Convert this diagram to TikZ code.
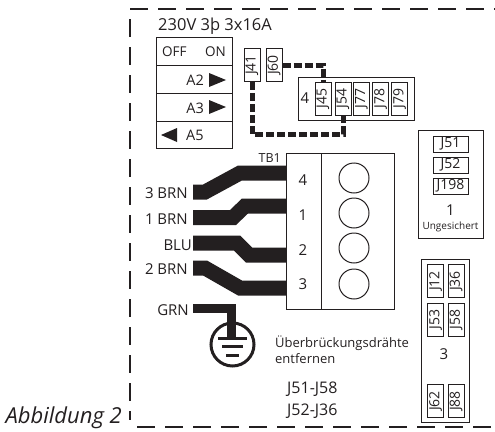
\documentclass[tikz,border=0pt]{standalone}
\usepackage{fontspec}
\setmainfont{Open Sans}
\definecolor{ink}{HTML}{231F20}
\newcommand{\fs}[1]{\fontsize{#1}{#1}\selectfont}
\tikzset{
  x=1pt,y=-1pt,
  frameline/.style={draw=ink,line width=1.7pt,dash pattern=on 18pt off 10pt},
  boxline/.style={draw=ink,line width=1pt},
  jbox/.style={draw=ink,line width=1pt,minimum width=33pt,minimum height=16pt,inner sep=0pt,rotate=90,font=\fs{14},text=ink},
  hbox/.style={draw=ink,line width=1pt,minimum width=35pt,minimum height=16pt,inner sep=0pt,font=\fs{14},text=ink},
  lab/.style={inner sep=0pt,font=\fs{15},text=ink},
  wire/.style={draw=ink,line width=15pt,line join=miter},
  gwire/.style={draw=ink,line width=9pt,line join=miter},
  jumper/.style={draw=ink,line width=5pt,dash pattern=on 8pt off 3pt},
  tri/.style={fill=ink,draw=none},
  hole/.style={draw=ink,line width=1pt,circle,minimum size=30pt,inner sep=0pt},
}
\begin{document}
\begin{tikzpicture}
\useasboundingbox (0,0) rectangle (495,431);
% frame
\coordinate (fa) at (130,19);
\coordinate (fg) at (130,420);
\coordinate (fb) at (130,9);
\coordinate (fc) at (495,9);
\coordinate (fd) at (137,427);
\coordinate (fe) at (495,427);
\draw[frameline] (fa) -- (fg);
\draw[frameline] (fb) -- (fc);
\draw[frameline] (fd) -- (fe);
% supply
\node[lab,font=\fs{16.5},anchor=west] (supply) at (158,26) {230V 3þ 3x16A};
% switch
\node[boxline,draw,minimum width=76pt,minimum height=28pt,inner sep=0pt] (sw0) at (194,51) {};
\node[boxline,draw,minimum width=76pt,minimum height=28pt,inner sep=0pt] (sw1) at (194,79) {};
\node[boxline,draw,minimum width=76pt,minimum height=28pt,inner sep=0pt] (sw2) at (194,107) {};
\node[boxline,draw,minimum width=76pt,minimum height=27pt,inner sep=0pt] (sw3) at (194,134.5) {};
\node[lab,font=\fs{13.5},anchor=west] (off) at (162,52) {OFF};
\node[lab,font=\fs{13.5},anchor=east] (on) at (226,52) {ON};
\node[lab,font=\fs{14.5},anchor=east] (a2) at (204,80) {A2};
\node[lab,font=\fs{14.5},anchor=east] (a3) at (204,108) {A3};
\node[lab,font=\fs{14.5},anchor=west] (a5) at (186,135) {A5};
\fill[tri] (209,73) -- (226,80) -- (209,87) -- cycle;
\fill[tri] (209,100) -- (226,107) -- (209,114) -- cycle;
\fill[tri] (177,128) -- (161,135) -- (177,142) -- cycle;
% jumper blocks
\node[boxline,draw,minimum width=116pt,minimum height=43pt,inner sep=0pt] (b4) at (356,98.5) {};
\node[lab] (n4) at (305,98.5) {4};
\node[jbox] (j41) at (252,65) {J41};
\node[jbox] (j60) at (274,65) {J60};
\node[jbox] (j45) at (323,98.5) {J45};
\node[jbox] (j54) at (343,98.5) {J54};
\node[jbox] (j77) at (361.5,98.5) {J77};
\node[jbox] (j78) at (380.5,98.5) {J78};
\node[jbox] (j79) at (399.5,98.5) {J79};
\draw[jumper] (j60.south) -| (j45.east);
\draw[jumper] (j41.west) |- (343,134) -- (j54.west);
% block 1
\node[boxline,draw,minimum width=65pt,minimum height=108pt,inner sep=0pt] (b1) at (450.5,184) {};
\node[hbox] (j51) at (450.5,144) {J51};
\node[hbox] (j52) at (450.5,165) {J52};
\node[hbox] (j198) at (450.5,186) {J198};
\node[lab] (n1) at (450.5,210) {1};
\node[lab,font=\fs{10}] (ung) at (450.5,227) {Ungesichert};
% TB1
\node[boxline,draw,minimum width=108pt,minimum height=156pt,inner sep=0pt] (tb) at (340,231) {};
\draw[boxline] (321,153) -- (321,309);
\node[lab,font=\fs{12.5},anchor=east] (tb1) at (281,158) {TB1};
\foreach \n/\t/\y in {t4/4/180,t1/1/215,t2/2/250,t3/3/284}{
  \node[lab] (\n) at (303,\y) {\t};
}
\foreach \n/\y in {h4/178,h1/213,h2/248,h3/284}{
  \node[hole] (\n) at (354,\y) {};
}
% wires
\node[lab,anchor=east] (l3) at (188,193) {3 BRN};
\node[lab,anchor=east] (l1) at (188,219) {1 BRN};
\node[lab,anchor=east] (lb) at (192,245) {BLU};
\node[lab,anchor=east] (l2) at (188,269) {2 BRN};
\node[lab,anchor=east] (lg) at (189,310) {GRN};
\coordinate (w3) at (193,192);
\coordinate (w1) at (193,217.5);
\coordinate (wb) at (193,243);
\coordinate (w2) at (193,268);
\coordinate (e4) at (286,173);
\coordinate (e1) at (286,206);
\coordinate (e2) at (286,255);
\coordinate (e3) at (286,288);
\draw[wire] (w3) -- (205,192) -- (240,173) -- (e4);
\draw[wire] (w1) -- (233,217.5) -- (245,206) -- (e1);
\draw[wire] (wb) -- (237,243) -- (249,255) -- (e2);
\draw[wire] (w2) -- (205,268) -- (240,288) -- (e3);
% ground
\coordinate (g0) at (193,308.5);
\node[draw=ink,line width=3pt,circle,minimum size=43pt,inner sep=0pt] (gnd) at (232.5,344.5) {};
\draw[gwire] (g0) -| (231.5,337);
\draw[ink,line width=3pt] (218,338) -- (247,338);
\draw[ink,line width=3pt] (222,346) -- (243,346);
\draw[ink,line width=3pt] (226,355) -- (239,355);
% notes
\node[lab,font=\fs{13},anchor=west,align=left] (note) at (275,350) {Überbrückungsdrähte\\[2pt]entfernen};
\node[lab,anchor=west,font=\fs{16}] (n51) at (287,389) {J51-J58};
\node[lab,anchor=west,font=\fs{16}] (n52) at (287,411) {J52-J36};
% block 3
\node[boxline,draw,minimum width=48pt,minimum height=163pt,inner sep=0pt] (b3) at (445,340.5) {};
\node[jbox] (j12) at (435.5,281) {J12};
\node[jbox] (j36) at (456,281) {J36};
\node[jbox] (j53) at (435.5,319.5) {J53};
\node[jbox] (j58) at (456,319.5) {J58};
\node[jbox] (j62) at (435.5,401) {J62};
\node[jbox] (j88) at (456,401) {J88};
\node[lab] (n3) at (444,354) {3};
% caption
\node[lab,font=\itshape\fs{22},anchor=east] (cap) at (122,418) {Abbildung 2};
\end{tikzpicture}
\end{document}
